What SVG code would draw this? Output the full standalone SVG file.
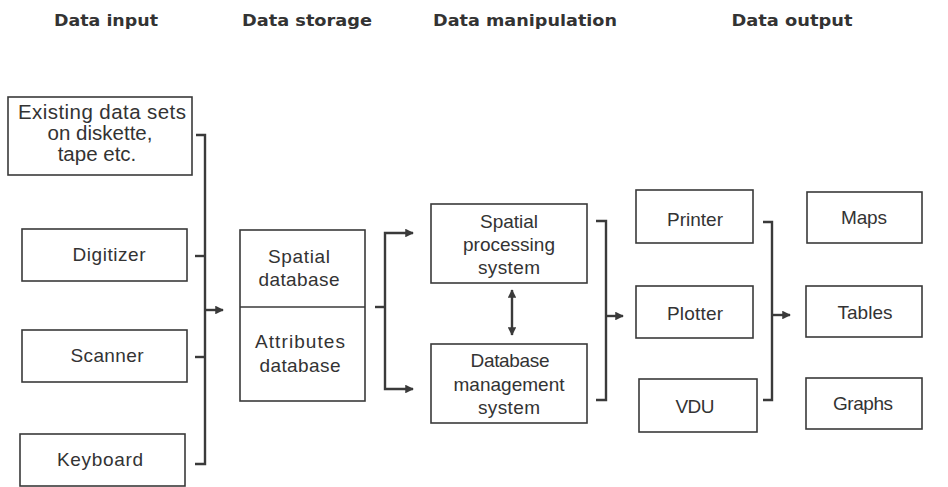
<svg xmlns="http://www.w3.org/2000/svg" width="948" height="487" viewBox="0 0 948 487">
  <style>
    .bg { fill: #ffffff; }
    .box { fill: #ffffff; stroke: #3a3a3a; stroke-width: 1.6; }
    .div { stroke: #3a3a3a; stroke-width: 1.6; }
    .head { font-family: "DejaVu Sans", "Liberation Sans", sans-serif; font-weight: bold; font-size: 16.5px; fill: #333333; text-anchor: middle; }
    .lbl { font-family: "Liberation Sans", Arial, sans-serif; font-size: 19px; fill: #333333; text-anchor: middle; }
    .big { font-size: 20.5px; }
    .wire { fill: none; stroke: #3a3a3a; stroke-width: 2.4; }
    .arrow { fill: none; stroke: #3a3a3a; stroke-width: 2.4; marker-end: url(#tip); }
    .arrow2 { fill: none; stroke: #3a3a3a; stroke-width: 2.4; marker-start: url(#tipS); marker-end: url(#tip); }
  </style>
  <defs>
    <marker id="tip" viewBox="0 0 10 10" refX="9" refY="5" markerWidth="4" markerHeight="3.6" orient="auto" markerUnits="strokeWidth">
      <path d="M0,0 L10,5 L0,10 z" fill="#3a3a3a"/>
    </marker>
    <marker id="tipS" viewBox="0 0 10 10" refX="1" refY="5" markerWidth="4" markerHeight="3.6" orient="auto" markerUnits="strokeWidth">
      <path d="M10,0 L0,5 L10,10 z" fill="#3a3a3a"/>
    </marker>
  </defs>
  <rect class="bg" x="0" y="0" width="948" height="487"/>

  <!-- column headings -->
  <g id="headings">
    <text class="head" x="106" y="26" textLength="104" lengthAdjust="spacingAndGlyphs">Data input</text>
    <text class="head" x="307" y="26" textLength="130" lengthAdjust="spacingAndGlyphs">Data storage</text>
    <text class="head" x="525" y="26" textLength="184" lengthAdjust="spacingAndGlyphs">Data manipulation</text>
    <text class="head" x="792" y="26" textLength="121" lengthAdjust="spacingAndGlyphs">Data output</text>
  </g>

  <!-- input devices -->
  <g id="existing">
    <rect class="box" x="8" y="97" width="184" height="78"/>
    <text class="lbl big" x="102" y="119" textLength="168" lengthAdjust="spacing">Existing data sets</text>
    <text class="lbl big" x="100" y="140">on diskette,</text>
    <text class="lbl big" x="97" y="161">tape etc.</text>
  </g>
  <g id="digitizer">
    <rect class="box" x="22" y="229" width="165" height="52"/>
    <text class="lbl" x="109" y="261" textLength="73" lengthAdjust="spacing">Digitizer</text>
  </g>
  <g id="scanner">
    <rect class="box" x="22" y="330" width="165" height="52"/>
    <text class="lbl" x="107" y="362" textLength="73" lengthAdjust="spacing">Scanner</text>
  </g>
  <g id="keyboard">
    <rect class="box" x="20" y="434" width="165" height="52"/>
    <text class="lbl" x="100" y="466" textLength="86" lengthAdjust="spacing">Keyboard</text>
  </g>

  <!-- storage -->
  <g id="storage">
    <rect class="box" x="240" y="230" width="125" height="171"/>
    <line class="div" x1="240" y1="307" x2="365" y2="307"/>
    <text class="lbl" x="299" y="263" textLength="62" lengthAdjust="spacing">Spatial</text>
    <text class="lbl" x="299" y="286" textLength="81" lengthAdjust="spacing">database</text>
    <text class="lbl" x="300" y="348" textLength="90" lengthAdjust="spacing">Attributes</text>
    <text class="lbl" x="300" y="372" textLength="81" lengthAdjust="spacing">database</text>
  </g>

  <!-- manipulation -->
  <g id="spatial-processing">
    <rect class="box" x="431" y="204" width="156" height="79"/>
    <text class="lbl" x="509" y="228" textLength="58" lengthAdjust="spacing">Spatial</text>
    <text class="lbl" x="509" y="251" textLength="92" lengthAdjust="spacing">processing</text>
    <text class="lbl" x="509" y="274" textLength="62" lengthAdjust="spacing">system</text>
  </g>
  <g id="dbms">
    <rect class="box" x="431" y="344" width="156" height="79"/>
    <text class="lbl" x="510" y="367" textLength="79" lengthAdjust="spacing">Database</text>
    <text class="lbl" x="509" y="391" textLength="111" lengthAdjust="spacing">management</text>
    <text class="lbl" x="509" y="414" textLength="62" lengthAdjust="spacing">system</text>
  </g>

  <!-- output devices -->
  <g id="printer">
    <rect class="box" x="636" y="190" width="117" height="53"/>
    <text class="lbl" x="695" y="226" textLength="56" lengthAdjust="spacing">Printer</text>
  </g>
  <g id="plotter">
    <rect class="box" x="636" y="286" width="117" height="52"/>
    <text class="lbl" x="695" y="320" textLength="56" lengthAdjust="spacing">Plotter</text>
  </g>
  <g id="vdu">
    <rect class="box" x="639" y="379" width="118" height="53"/>
    <text class="lbl" x="695" y="413" textLength="39" lengthAdjust="spacing">VDU</text>
  </g>

  <!-- products -->
  <g id="maps">
    <rect class="box" x="807" y="192" width="115" height="51"/>
    <text class="lbl" x="864" y="224" textLength="46" lengthAdjust="spacing">Maps</text>
  </g>
  <g id="tables">
    <rect class="box" x="806" y="286" width="116" height="51"/>
    <text class="lbl" x="865" y="319" textLength="55" lengthAdjust="spacing">Tables</text>
  </g>
  <g id="graphs">
    <rect class="box" x="806" y="378" width="116" height="51"/>
    <text class="lbl" x="863" y="410" textLength="60" lengthAdjust="spacing">Graphs</text>
  </g>

  <!-- connectors -->
  <g id="connectors">
    <!-- inputs merge into storage -->
    <path class="wire" d="M196,135 H205 V464 H195"/>
    <path class="wire" d="M195,256 H205"/>
    <path class="wire" d="M195,357 H205"/>
    <path class="arrow" d="M205,310 H223"/>
    <!-- storage splits to manipulation -->
    <path class="wire" d="M375,307 H385"/>
    <path class="arrow" d="M385,307 V233 H413"/>
    <path class="arrow" d="M385,307 V389 H413"/>
    <!-- two-way link between processing systems -->
    <path class="arrow2" d="M512,290 V335"/>
    <!-- manipulation merges to output devices -->
    <path class="wire" d="M596,221 H606 V400 H596"/>
    <path class="arrow" d="M606,316 H623"/>
    <!-- output devices to products -->
    <path class="wire" d="M763,222 H772 V400 H763"/>
    <path class="arrow" d="M772,315 H790"/>
  </g>
</svg>
